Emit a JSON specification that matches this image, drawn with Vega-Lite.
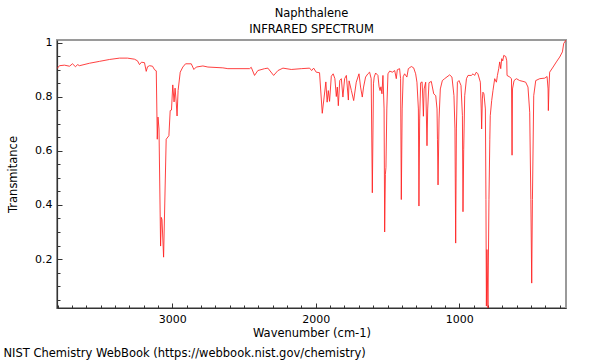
{
  "$schema": "https://vega.github.io/schema/vega-lite/v6.json",
  "width": 509,
  "height": 268,
  "autosize": {"type": "none"},
  "padding": {"left": 57, "top": 40, "right": 34, "bottom": 52},
  "background": "white",
  "config": {
    "font": "DejaVu Sans",
    "view": {"stroke": "#9a9a9a", "strokeWidth": 2},
    "axis": {
      "grid": false,
      "labelFont": "DejaVu Sans",
      "titleFont": "DejaVu Sans",
      "labelFontSize": 11,
      "titleFontSize": 11.5,
      "titleFontWeight": "normal",
      "labelColor": "#000000",
      "titleColor": "#000000",
      "tickColor": "#333333",
      "domainColor": "#333333",
      "domainWidth": 1.2
    }
  },
  "title": {
    "text": "Naphthalene",
    "subtitle": "INFRARED SPECTRUM",
    "anchor": "middle",
    "font": "DejaVu Sans",
    "subtitleFont": "DejaVu Sans",
    "fontSize": 11.5,
    "subtitleFontSize": 11.5,
    "fontWeight": "normal",
    "color": "#000000",
    "subtitleColor": "#000000",
    "offset": 1,
    "subtitlePadding": 5
  },
  "data": {
    "values": [
      {"wavenumber": 3804, "transmittance": 0.904},
      {"wavenumber": 3787, "transmittance": 0.915},
      {"wavenumber": 3752, "transmittance": 0.917},
      {"wavenumber": 3717, "transmittance": 0.913},
      {"wavenumber": 3696, "transmittance": 0.922},
      {"wavenumber": 3675, "transmittance": 0.911},
      {"wavenumber": 3661, "transmittance": 0.919},
      {"wavenumber": 3647, "transmittance": 0.915},
      {"wavenumber": 3578, "transmittance": 0.924},
      {"wavenumber": 3508, "transmittance": 0.931},
      {"wavenumber": 3438, "transmittance": 0.938},
      {"wavenumber": 3368, "transmittance": 0.943},
      {"wavenumber": 3313, "transmittance": 0.943},
      {"wavenumber": 3264, "transmittance": 0.939},
      {"wavenumber": 3243, "transmittance": 0.933},
      {"wavenumber": 3229, "transmittance": 0.919},
      {"wavenumber": 3215, "transmittance": 0.928},
      {"wavenumber": 3194, "transmittance": 0.926},
      {"wavenumber": 3182, "transmittance": 0.894},
      {"wavenumber": 3173, "transmittance": 0.911},
      {"wavenumber": 3159, "transmittance": 0.915},
      {"wavenumber": 3138, "transmittance": 0.913},
      {"wavenumber": 3124, "transmittance": 0.900},
      {"wavenumber": 3112, "transmittance": 0.896},
      {"wavenumber": 3105, "transmittance": 0.643},
      {"wavenumber": 3100, "transmittance": 0.725},
      {"wavenumber": 3093, "transmittance": 0.681},
      {"wavenumber": 3082, "transmittance": 0.248},
      {"wavenumber": 3077, "transmittance": 0.354},
      {"wavenumber": 3072, "transmittance": 0.346},
      {"wavenumber": 3061, "transmittance": 0.207},
      {"wavenumber": 3043, "transmittance": 0.643},
      {"wavenumber": 3024, "transmittance": 0.656},
      {"wavenumber": 3015, "transmittance": 0.749},
      {"wavenumber": 3006, "transmittance": 0.751},
      {"wavenumber": 2997, "transmittance": 0.844},
      {"wavenumber": 2988, "transmittance": 0.781},
      {"wavenumber": 2981, "transmittance": 0.832},
      {"wavenumber": 2973, "transmittance": 0.781},
      {"wavenumber": 2967, "transmittance": 0.729},
      {"wavenumber": 2960, "transmittance": 0.823},
      {"wavenumber": 2945, "transmittance": 0.891},
      {"wavenumber": 2927, "transmittance": 0.910},
      {"wavenumber": 2908, "transmittance": 0.922},
      {"wavenumber": 2868, "transmittance": 0.922},
      {"wavenumber": 2850, "transmittance": 0.901},
      {"wavenumber": 2833, "transmittance": 0.910},
      {"wavenumber": 2787, "transmittance": 0.914},
      {"wavenumber": 2752, "transmittance": 0.910},
      {"wavenumber": 2648, "transmittance": 0.907},
      {"wavenumber": 2613, "transmittance": 0.904},
      {"wavenumber": 2462, "transmittance": 0.904},
      {"wavenumber": 2450, "transmittance": 0.909},
      {"wavenumber": 2427, "transmittance": 0.879},
      {"wavenumber": 2404, "transmittance": 0.897},
      {"wavenumber": 2357, "transmittance": 0.904},
      {"wavenumber": 2334, "transmittance": 0.906},
      {"wavenumber": 2294, "transmittance": 0.879},
      {"wavenumber": 2264, "transmittance": 0.897},
      {"wavenumber": 2229, "transmittance": 0.906},
      {"wavenumber": 2171, "transmittance": 0.901},
      {"wavenumber": 2101, "transmittance": 0.904},
      {"wavenumber": 2043, "transmittance": 0.906},
      {"wavenumber": 2029, "transmittance": 0.897},
      {"wavenumber": 2015, "transmittance": 0.906},
      {"wavenumber": 1997, "transmittance": 0.891},
      {"wavenumber": 1974, "transmittance": 0.889},
      {"wavenumber": 1955, "transmittance": 0.739},
      {"wavenumber": 1942, "transmittance": 0.799},
      {"wavenumber": 1930, "transmittance": 0.855},
      {"wavenumber": 1921, "transmittance": 0.780},
      {"wavenumber": 1913, "transmittance": 0.823},
      {"wavenumber": 1904, "transmittance": 0.783},
      {"wavenumber": 1892, "transmittance": 0.876},
      {"wavenumber": 1879, "transmittance": 0.885},
      {"wavenumber": 1867, "transmittance": 0.867},
      {"wavenumber": 1857, "transmittance": 0.801},
      {"wavenumber": 1850, "transmittance": 0.836},
      {"wavenumber": 1843, "transmittance": 0.767},
      {"wavenumber": 1833, "transmittance": 0.860},
      {"wavenumber": 1822, "transmittance": 0.867},
      {"wavenumber": 1811, "transmittance": 0.799},
      {"wavenumber": 1799, "transmittance": 0.867},
      {"wavenumber": 1787, "transmittance": 0.879},
      {"wavenumber": 1773, "transmittance": 0.788},
      {"wavenumber": 1768, "transmittance": 0.859},
      {"wavenumber": 1752, "transmittance": 0.823},
      {"wavenumber": 1736, "transmittance": 0.786},
      {"wavenumber": 1718, "transmittance": 0.854},
      {"wavenumber": 1699, "transmittance": 0.885},
      {"wavenumber": 1688, "transmittance": 0.836},
      {"wavenumber": 1676, "transmittance": 0.799},
      {"wavenumber": 1667, "transmittance": 0.836},
      {"wavenumber": 1653, "transmittance": 0.873},
      {"wavenumber": 1637, "transmittance": 0.885},
      {"wavenumber": 1625, "transmittance": 0.891},
      {"wavenumber": 1614, "transmittance": 0.867},
      {"wavenumber": 1606, "transmittance": 0.445},
      {"wavenumber": 1598, "transmittance": 0.848},
      {"wavenumber": 1593, "transmittance": 0.873},
      {"wavenumber": 1583, "transmittance": 0.888},
      {"wavenumber": 1567, "transmittance": 0.879},
      {"wavenumber": 1559, "transmittance": 0.837},
      {"wavenumber": 1552, "transmittance": 0.823},
      {"wavenumber": 1546, "transmittance": 0.837},
      {"wavenumber": 1539, "transmittance": 0.811},
      {"wavenumber": 1532, "transmittance": 0.879},
      {"wavenumber": 1524, "transmittance": 0.755},
      {"wavenumber": 1520, "transmittance": 0.300},
      {"wavenumber": 1515, "transmittance": 0.513},
      {"wavenumber": 1511, "transmittance": 0.539},
      {"wavenumber": 1505, "transmittance": 0.755},
      {"wavenumber": 1497, "transmittance": 0.885},
      {"wavenumber": 1485, "transmittance": 0.895},
      {"wavenumber": 1466, "transmittance": 0.891},
      {"wavenumber": 1450, "transmittance": 0.897},
      {"wavenumber": 1439, "transmittance": 0.867},
      {"wavenumber": 1432, "transmittance": 0.900},
      {"wavenumber": 1416, "transmittance": 0.904},
      {"wavenumber": 1409, "transmittance": 0.867},
      {"wavenumber": 1404, "transmittance": 0.420},
      {"wavenumber": 1398, "transmittance": 0.755},
      {"wavenumber": 1391, "transmittance": 0.874},
      {"wavenumber": 1381, "transmittance": 0.885},
      {"wavenumber": 1365, "transmittance": 0.873},
      {"wavenumber": 1355, "transmittance": 0.904},
      {"wavenumber": 1334, "transmittance": 0.912},
      {"wavenumber": 1318, "transmittance": 0.907},
      {"wavenumber": 1304, "transmittance": 0.885},
      {"wavenumber": 1295, "transmittance": 0.854},
      {"wavenumber": 1285, "transmittance": 0.755},
      {"wavenumber": 1281, "transmittance": 0.396},
      {"wavenumber": 1276, "transmittance": 0.718},
      {"wavenumber": 1269, "transmittance": 0.852},
      {"wavenumber": 1259, "transmittance": 0.855},
      {"wavenumber": 1254, "transmittance": 0.792},
      {"wavenumber": 1250, "transmittance": 0.728},
      {"wavenumber": 1245, "transmittance": 0.829},
      {"wavenumber": 1234, "transmittance": 0.854},
      {"wavenumber": 1225, "transmittance": 0.619},
      {"wavenumber": 1220, "transmittance": 0.755},
      {"wavenumber": 1211, "transmittance": 0.852},
      {"wavenumber": 1195, "transmittance": 0.857},
      {"wavenumber": 1178, "transmittance": 0.811},
      {"wavenumber": 1164, "transmittance": 0.804},
      {"wavenumber": 1155, "transmittance": 0.755},
      {"wavenumber": 1152, "transmittance": 0.643},
      {"wavenumber": 1148, "transmittance": 0.474},
      {"wavenumber": 1141, "transmittance": 0.718},
      {"wavenumber": 1132, "transmittance": 0.829},
      {"wavenumber": 1118, "transmittance": 0.860},
      {"wavenumber": 1102, "transmittance": 0.867},
      {"wavenumber": 1067, "transmittance": 0.881},
      {"wavenumber": 1051, "transmittance": 0.873},
      {"wavenumber": 1037, "transmittance": 0.804},
      {"wavenumber": 1030, "transmittance": 0.681},
      {"wavenumber": 1025, "transmittance": 0.259},
      {"wavenumber": 1020, "transmittance": 0.681},
      {"wavenumber": 1013, "transmittance": 0.854},
      {"wavenumber": 1002, "transmittance": 0.860},
      {"wavenumber": 988, "transmittance": 0.842},
      {"wavenumber": 978, "transmittance": 0.730},
      {"wavenumber": 974, "transmittance": 0.375},
      {"wavenumber": 969, "transmittance": 0.606},
      {"wavenumber": 962, "transmittance": 0.804},
      {"wavenumber": 950, "transmittance": 0.867},
      {"wavenumber": 939, "transmittance": 0.879},
      {"wavenumber": 916, "transmittance": 0.879},
      {"wavenumber": 904, "transmittance": 0.885},
      {"wavenumber": 893, "transmittance": 0.879},
      {"wavenumber": 881, "transmittance": 0.891},
      {"wavenumber": 870, "transmittance": 0.885},
      {"wavenumber": 853, "transmittance": 0.854},
      {"wavenumber": 847, "transmittance": 0.755},
      {"wavenumber": 844, "transmittance": 0.681},
      {"wavenumber": 839, "transmittance": 0.792},
      {"wavenumber": 835, "transmittance": 0.817},
      {"wavenumber": 828, "transmittance": 0.811},
      {"wavenumber": 818, "transmittance": 0.755},
      {"wavenumber": 814, "transmittance": 0.420},
      {"wavenumber": 811, "transmittance": 0.026},
      {"wavenumber": 807, "transmittance": 0.235},
      {"wavenumber": 800, "transmittance": 0.019},
      {"wavenumber": 793, "transmittance": 0.420},
      {"wavenumber": 787, "transmittance": 0.643},
      {"wavenumber": 784, "transmittance": 0.730},
      {"wavenumber": 774, "transmittance": 0.786},
      {"wavenumber": 765, "transmittance": 0.823},
      {"wavenumber": 753, "transmittance": 0.867},
      {"wavenumber": 741, "transmittance": 0.854},
      {"wavenumber": 734, "transmittance": 0.879},
      {"wavenumber": 725, "transmittance": 0.904},
      {"wavenumber": 718, "transmittance": 0.929},
      {"wavenumber": 711, "transmittance": 0.904},
      {"wavenumber": 704, "transmittance": 0.941},
      {"wavenumber": 697, "transmittance": 0.933},
      {"wavenumber": 690, "transmittance": 0.953},
      {"wavenumber": 676, "transmittance": 0.949},
      {"wavenumber": 669, "transmittance": 0.933},
      {"wavenumber": 667, "transmittance": 0.879},
      {"wavenumber": 648, "transmittance": 0.873},
      {"wavenumber": 636, "transmittance": 0.867},
      {"wavenumber": 632, "transmittance": 0.584},
      {"wavenumber": 629, "transmittance": 0.829},
      {"wavenumber": 618, "transmittance": 0.860},
      {"wavenumber": 602, "transmittance": 0.867},
      {"wavenumber": 579, "transmittance": 0.860},
      {"wavenumber": 556, "transmittance": 0.857},
      {"wavenumber": 537, "transmittance": 0.854},
      {"wavenumber": 521, "transmittance": 0.836},
      {"wavenumber": 509, "transmittance": 0.743},
      {"wavenumber": 501, "transmittance": 0.420},
      {"wavenumber": 495, "transmittance": 0.111},
      {"wavenumber": 490, "transmittance": 0.420},
      {"wavenumber": 481, "transmittance": 0.804},
      {"wavenumber": 467, "transmittance": 0.860},
      {"wavenumber": 439, "transmittance": 0.867},
      {"wavenumber": 404, "transmittance": 0.869},
      {"wavenumber": 388, "transmittance": 0.875},
      {"wavenumber": 381, "transmittance": 0.829},
      {"wavenumber": 379, "transmittance": 0.749},
      {"wavenumber": 375, "transmittance": 0.829},
      {"wavenumber": 370, "transmittance": 0.891},
      {"wavenumber": 346, "transmittance": 0.910},
      {"wavenumber": 323, "transmittance": 0.929},
      {"wavenumber": 300, "transmittance": 0.947},
      {"wavenumber": 281, "transmittance": 0.966},
      {"wavenumber": 272, "transmittance": 0.997},
      {"wavenumber": 256, "transmittance": 1.010}
    ]
  },
  "layer": [
    {
      "mark": {"type": "line", "color": "#ff2020", "strokeWidth": 1, "opacity": 0.85, "clip": true},
      "encoding": {
        "x": {
          "field": "wavenumber",
          "type": "quantitative",
          "scale": {"domain": [256, 3804], "reverse": true, "nice": false, "zero": false},
          "axis": {
            "orient": "bottom",
            "values": [1000, 2000, 3000],
            "format": "d",
            "title": "Wavenumber (cm-1)",
            "tickSize": -5,
            "labelPadding": 10,
            "titlePadding": 3
          }
        },
        "y": {
          "field": "transmittance",
          "type": "quantitative",
          "scale": {"domain": [0.019, 1.01], "nice": false, "zero": false},
          "axis": {
            "orient": "left",
            "values": [0.2, 0.4, 0.6, 0.8, 1],
            "format": "~g",
            "title": "Transmitance",
            "tickSize": -5,
            "labelPadding": 10,
            "titlePadding": 16
          }
        }
      }
    },
    {
      "mark": {"type": "line", "opacity": 0, "clip": true},
      "encoding": {
        "x": {
          "field": "wavenumber",
          "type": "quantitative",
          "scale": {"domain": [256, 3804], "reverse": true, "nice": false, "zero": false},
          "axis": {
            "orient": "bottom",
            "values": [300, 400, 500, 600, 700, 800, 900, 1100, 1200, 1300, 1400, 1500, 1600, 1700, 1800, 1900, 2100, 2200, 2300, 2400, 2500, 2600, 2700, 2800, 2900, 3100, 3200, 3300, 3400, 3500, 3600, 3700, 3800],
            "labels": false,
            "domain": false,
            "tickSize": -3,
            "title": "NIST Chemistry WebBook (https://webbook.nist.gov/chemistry)",
            "titleAnchor": "start",
            "titleAlign": "left",
            "titleBaseline": "alphabetic",
            "titleX": -54,
            "titleY": 48
          }
        },
        "y": {
          "field": "transmittance",
          "type": "quantitative",
          "scale": {"domain": [0.019, 1.01], "nice": false, "zero": false},
          "axis": {
            "orient": "left",
            "values": [0.05, 0.1, 0.15, 0.25, 0.3, 0.35, 0.45, 0.5, 0.55, 0.65, 0.7, 0.75, 0.85, 0.9, 0.95],
            "labels": false,
            "domain": false,
            "tickSize": -3,
            "title": null
          }
        }
      }
    }
  ],
  "resolve": {"axis": {"x": "independent", "y": "independent"}}
}
